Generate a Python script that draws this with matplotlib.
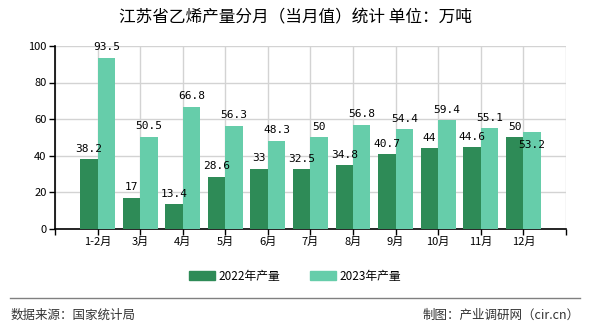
import numpy as np
import matplotlib
matplotlib.use("Agg")
import matplotlib.pyplot as plt
from matplotlib.patches import Patch

plt.rcParams['font.family'] = ['Noto Sans CJK SC', 'DejaVu Sans']

# 数据
months = ["1-2月", "3月", "4月", "5月", "6月", "7月", "8月", "9月", "10月", "11月", "12月"]
prod_2022 = [38.2, 17, 13.4, 28.6, 33, 32.5, 34.8, 40.7, 44, 44.6, 50]
prod_2023 = [93.5, 50.5, 66.8, 56.3, 48.3, 50, 56.8, 54.4, 59.4, 55.1, 53.2]
label_2022 = "2022年产量"
label_2023 = "2023年产量"

c22 = "#2e8b57"
c23 = "#66cdaa"

fig = plt.figure(figsize=(5.9, 3.3), dpi=100)
ax = fig.add_axes([0.0932, 0.306, 0.866, 0.555])

x = np.arange(len(months))
w = 0.41
ax.bar(x - w / 2, prod_2022, width=w, color=c22, zorder=3)
ax.bar(x + w / 2, prod_2023, width=w, color=c23, zorder=3)

# 数值标签
for i in range(len(months)):
    ax.annotate(f"{prod_2022[i]:g}", (x[i] - w / 2, prod_2022[i]), xytext=(0, 4),
                textcoords="offset points", ha="center", va="bottom",
                fontsize=8, family="DejaVu Sans Mono", zorder=4)
    dy = 4
    if i == len(months) - 1:
        dy = -13  # 最后一个标签压在柱子上
    ax.annotate(f"{prod_2023[i]:g}", (x[i] + w / 2, prod_2023[i]), xytext=(0, dy),
                textcoords="offset points", ha="center", va="bottom",
                fontsize=8, family="DejaVu Sans Mono", zorder=4)

ax.set_xlim(-1, len(months))
ax.set_ylim(0, 100)
ax.set_yticks([0, 20, 40, 60, 80, 100])
ticks = np.arange(-1, len(months) + 1)
ax.set_xticks(ticks)
ax.set_xticklabels([""] + months + [""])
ax.tick_params(labelsize=8, length=4, width=1, colors="black", pad=2)

ax.grid(True, color="#d3d3d3", linewidth=1, zorder=0)
for s in ["top", "right"]:
    ax.spines[s].set_visible(False)
ax.spines["left"].set_linewidth(1.2)
ax.spines["bottom"].set_linewidth(1.2)

fig.text(0.5, 0.945, "江苏省乙烯产量分月（当月值）统计 单位：万吨", ha="center", va="center",
         fontsize=12)

handles = [Patch(color=c22, label=label_2022), Patch(color=c23, label=label_2023)]
fig.legend(handles=handles, loc="center", bbox_to_anchor=(0.5, 0.163), ncol=2,
           frameon=False, fontsize=8.5, handlelength=2.2, handleheight=0.8,
           columnspacing=2.5, handletextpad=0.3)

fig.add_artist(plt.Line2D([0.017, 0.983], [0.097, 0.097], color="#808080", linewidth=1))
fig.text(0.017, 0.045, "数据来源：国家统计局", ha="left", va="center", fontsize=9, color="#333333")
fig.text(0.983, 0.045, "制图：产业调研网（cir.cn）", ha="right", va="center", fontsize=9, color="#333333")

fig.savefig("out.png", dpi=100)
